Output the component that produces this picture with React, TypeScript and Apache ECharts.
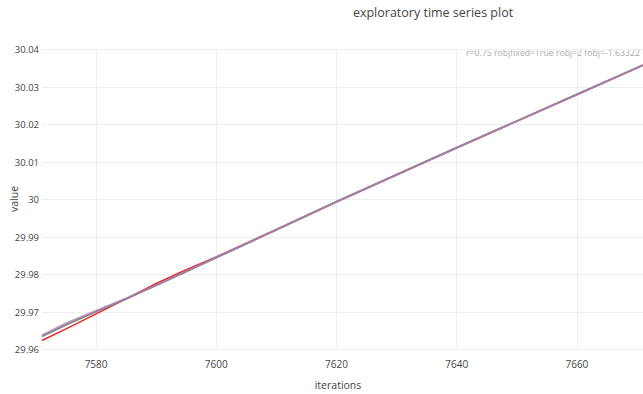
import React, { useEffect, useRef } from "react";
import * as echarts from "echarts";

const iterations = [7571, 7575, 7580, 7585, 7590, 7595, 7600, 7610, 7620, 7630, 7640, 7650, 7660, 7671];
const seriesGray = [29.9635, 29.9666, 29.9701, 29.9735, 29.9771, 29.9808, 29.9845, 29.9919, 29.9994, 30.0066, 30.0138, 30.0209, 30.028, 30.0358];
const seriesPurple = [29.9639, 29.9671, 29.9704, 29.9737, 29.9772, 29.9808, 29.9846, 29.992, 29.9994, 30.0066, 30.0138, 30.0209, 30.028, 30.0358];
const seriesRed = [29.9624, 29.9655, 29.9695, 29.9735, 29.9776, 29.9813, 29.9847, 29.992, 29.9994, 30.0066, 30.0138, 30.0209, 30.028, 30.0358];
const xTicks = [7580, 7600, 7620, 7640, 7660];

const titleText = "exploratory time series plot";
const annotationText = "r=0.75 robjfixed=True robj=2 fobj=-1.63322";
const xName = "iterations";
const yName = "value";

export default function App() {
  const ref = useRef<HTMLDivElement>(null);
  useEffect(() => {
    if (!ref.current) return;
    const chart = echarts.init(ref.current, null, { renderer: "svg" });
    const mk = (vals: number[]) => iterations.map((x, i) => [x, vals[i]]);
    const font = "'Open Sans', 'DejaVu Sans', sans-serif";
    chart.setOption({
      animation: false,
      backgroundColor: "#ffffff",
      textStyle: { fontFamily: font },
      grid: { left: 42, right: 0, top: 49.5, bottom: 44.5, containLabel: false, outerBoundsMode: "none" },
      xAxis: {
        type: "value",
        min: 7571,
        max: 7671,
        axisLine: { show: false },
        axisTick: { show: false, customValues: xTicks },
        axisLabel: {
          color: "#444",
          fontSize: 10,
          margin: 9,
          fontFamily: font,
          customValues: xTicks,
          formatter: (v: number) => String(v),
        },
        splitLine: { show: true, lineStyle: { color: "#eeeeee", width: 1 } },
      },
      yAxis: {
        type: "value",
        min: 29.96,
        max: 30.04,
        interval: 0.01,
        axisLine: { show: false },
        axisTick: { show: false },
        axisLabel: {
          color: "#444",
          fontSize: 9.5,
          margin: 3,
          fontFamily: font,
          formatter: (v: number) => String(Math.round(v * 100) / 100),
        },
        splitLine: { show: true, lineStyle: { color: "#eeeeee", width: 1 } },
      },
      graphic: [
        {
          type: "text",
          x: 433,
          y: 12,
          style: {
            text: titleText,
            fill: "#444",
            fontSize: 12.5,
            fontFamily: font,
            textAlign: "center",
            textVerticalAlign: "middle",
          },
        },
        {
          type: "text",
          x: 466,
          y: 53,
          style: {
            text: annotationText,
            fill: "#aaaaaa",
            fontSize: 8.7,
            fontFamily: font,
            textAlign: "left",
            textVerticalAlign: "middle",
          },
        },
        {
          type: "text",
          x: 338,
          y: 385,
          style: {
            text: xName,
            fill: "#444",
            fontSize: 10.5,
            fontFamily: font,
            textAlign: "center",
            textVerticalAlign: "middle",
          },
        },
        {
          type: "text",
          x: 14,
          y: 199,
          rotation: Math.PI / 2,
          style: {
            text: yName,
            fill: "#444",
            fontSize: 10.5,
            fontFamily: font,
            textAlign: "center",
            textVerticalAlign: "middle",
          },
        },
      ],
      series: [
        {
          type: "line",
          data: mk(seriesRed),
          showSymbol: false,
          smooth: false,
          lineStyle: { color: "#e8262a", width: 1.5 },
          z: 2,
        },
        {
          type: "line",
          data: mk(seriesGray),
          showSymbol: false,
          lineStyle: { color: "#888888", width: 2 },
          z: 3,
        },
        {
          type: "line",
          data: mk(seriesPurple),
          showSymbol: false,
          lineStyle: { color: "#b07ab8", width: 1.5, opacity: 0.75 },
          z: 4,
        },
      ],
    });
    return () => chart.dispose();
  }, []);
  return (
    <div
      ref={ref}
      style={{ position: "fixed", left: 0, top: 0, width: 643, height: 394, background: "#fff" }}
    />
  );
}
